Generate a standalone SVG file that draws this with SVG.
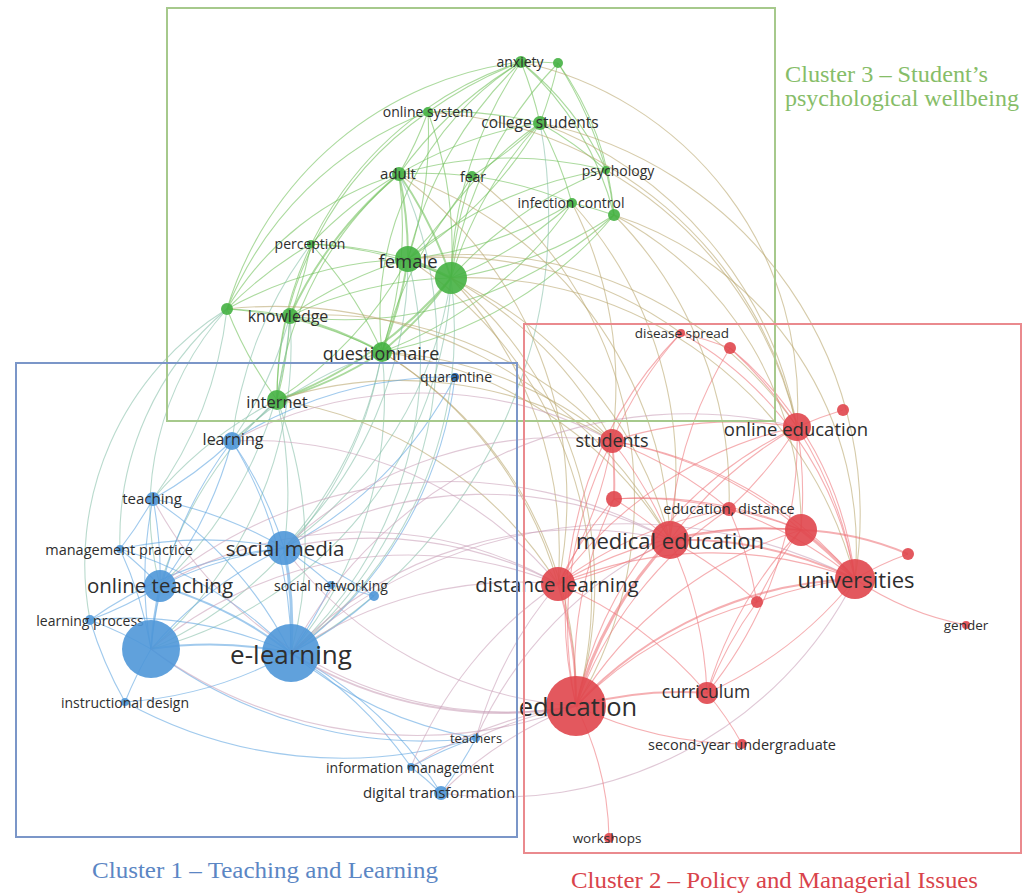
<svg xmlns="http://www.w3.org/2000/svg" width="1023" height="896" viewBox="0 0 1023 896">
<style>
#edges path{fill:none;stroke-width:1.1;stroke-opacity:.58}
.g{stroke:#6fbf58}.b{stroke:#5da4e0}.r{stroke:#ee767a}
.gb{stroke:#86c0a8}.gr{stroke:#b9a66c}.br{stroke:#c9a0b8}
.w2{stroke-width:2!important}.w3{stroke-width:3!important}
.ng{fill:#45b143;fill-opacity:.9}.nb{fill:#4f97d8;fill-opacity:.9}.nr{fill:#e0464d;fill-opacity:.9}
text{font-family:"Open Sans","DejaVu Sans",sans-serif;fill:#2e2e2e;text-anchor:middle;dominant-baseline:central}
.cl{font-family:"Liberation Serif",serif;font-size:24px;text-anchor:start;dominant-baseline:auto}
.box{fill:none;stroke-width:2}
</style>
<rect width="1023" height="896" fill="#ffffff"/>
<g id="edges">
<path class="g w3" d="M408 259A400 400 0 0 1 451 278"/>
<path class="g w2" d="M399 174A400 400 0 0 1 408 259"/>
<path class="g w2" d="M408 259A400 400 0 0 1 382 352"/>
<path class="g" d="M290 316A400 400 0 0 1 408 259"/>
<path class="g" d="M311 244A400 400 0 0 1 408 259"/>
<path class="g" d="M428 112A400 400 0 0 1 408 259"/>
<path class="g" d="M540 123A400 400 0 0 1 408 259"/>
<path class="g" d="M408 259A400 400 0 0 1 521 62"/>
<path class="g" d="M472 176A400 400 0 0 1 408 259"/>
<path class="g" d="M572 203A400 400 0 0 1 408 259"/>
<path class="g" d="M408 259A400 400 0 0 1 606 170"/>
<path class="g" d="M408 259A400 400 0 0 1 277 400"/>
<path class="g" d="M227 309A400 400 0 0 1 408 259"/>
<path class="g w2" d="M399 174A400 400 0 0 1 451 278"/>
<path class="g w2" d="M451 278A400 400 0 0 1 382 352"/>
<path class="g" d="M290 316A400 400 0 0 1 451 278"/>
<path class="g" d="M451 278A400 400 0 0 1 540 123"/>
<path class="g" d="M451 278A400 400 0 0 1 521 62"/>
<path class="g" d="M572 203A400 400 0 0 1 451 278"/>
<path class="g" d="M451 278A400 400 0 0 1 606 170"/>
<path class="g" d="M614 215A400 400 0 0 1 451 278"/>
<path class="g w2" d="M451 278A400 400 0 0 1 277 400"/>
<path class="g" d="M428 112A400 400 0 0 1 451 278"/>
<path class="g" d="M451 278A400 400 0 0 1 472 176"/>
<path class="g" d="M311 244A400 400 0 0 1 451 278"/>
<path class="g" d="M451 278A400 400 0 0 1 558 63"/>
<path class="g w2" d="M290 316A400 400 0 0 1 382 352"/>
<path class="g w2" d="M382 352A400 400 0 0 1 277 400"/>
<path class="g" d="M399 174A400 400 0 0 1 382 352"/>
<path class="g" d="M311 244A400 400 0 0 1 382 352"/>
<path class="g" d="M382 352A400 400 0 0 1 540 123"/>
<path class="g" d="M227 309A400 400 0 0 1 382 352"/>
<path class="g" d="M572 203A400 400 0 0 1 382 352"/>
<path class="g" d="M382 352A300 300 0 0 1 521 62"/>
<path class="g" d="M428 112A400 400 0 0 1 399 174"/>
<path class="g" d="M399 174A400 400 0 0 1 540 123"/>
<path class="g" d="M399 174A400 400 0 0 1 472 176"/>
<path class="g" d="M399 174A400 400 0 0 1 521 62"/>
<path class="g w2" d="M290 316A400 400 0 0 1 399 174"/>
<path class="g" d="M311 244A400 400 0 0 1 399 174"/>
<path class="g" d="M399 174A400 400 0 0 1 606 170"/>
<path class="g" d="M521 62A400 400 0 0 1 540 123"/>
<path class="g" d="M558 63A400 400 0 0 1 540 123"/>
<path class="g" d="M540 123A400 400 0 0 1 606 170"/>
<path class="g" d="M540 123A400 400 0 0 1 572 203"/>
<path class="g" d="M428 112A400 400 0 0 1 540 123"/>
<path class="g" d="M540 123A400 400 0 0 1 472 176"/>
<path class="g" d="M311 244A400 400 0 0 1 290 316"/>
<path class="g" d="M227 309A400 400 0 0 1 290 316"/>
<path class="g" d="M290 316A400 400 0 0 1 277 400"/>
<path class="g" d="M227 309A400 400 0 0 1 311 244"/>
<path class="g" d="M227 309A300 300 0 0 1 399 174"/>
<path class="g" d="M277 400A400 400 0 0 1 227 309"/>
<path class="g" d="M227 309A350 350 0 0 1 521 62"/>
<path class="g" d="M227 309A350 350 0 0 1 428 112"/>
<path class="g" d="M572 203A400 400 0 0 1 614 215"/>
<path class="g" d="M606 170A400 400 0 0 1 614 215"/>
<path class="g" d="M428 112A400 400 0 0 1 521 62"/>
<path class="g" d="M521 62A400 400 0 0 1 558 63"/>
<path class="g" d="M558 63A400 400 0 0 1 606 170"/>
<path class="g" d="M472 176A400 400 0 0 1 572 203"/>
<path class="g" d="M277 400A350 350 0 0 1 399 174"/>
<path class="g" d="M277 400A350 350 0 0 1 428 112"/>
<path class="g" d="M277 400A350 350 0 0 1 521 62"/>
<path class="g" d="M614 215A400 400 0 0 1 382 352"/>
<path class="g" d="M614 215A400 400 0 0 1 290 316"/>
<path class="g" d="M521 62A300 300 0 0 1 614 215"/>
<path class="g" d="M558 63A300 300 0 0 1 614 215"/>
<path class="g" d="M521 62A300 300 0 0 1 606 170"/>
<path class="gb" d="M277 400A400 400 0 0 1 232 441"/>
<path class="gb" d="M277 400A400 400 0 0 1 284 548"/>
<path class="gb" d="M277 400A400 400 0 0 1 291 653"/>
<path class="gb" d="M160 586A400 400 0 0 1 277 400"/>
<path class="gb" d="M153 499A400 400 0 0 1 277 400"/>
<path class="gb" d="M382 352A400 400 0 0 1 284 548"/>
<path class="gb" d="M382 352A400 400 0 0 1 291 653"/>
<path class="gb" d="M232 441A400 400 0 0 1 382 352"/>
<path class="gb" d="M451 278A400 400 0 0 1 291 653"/>
<path class="gb" d="M451 278A400 400 0 0 1 284 548"/>
<path class="gb" d="M408 259A400 400 0 0 1 291 653"/>
<path class="gb" d="M408 259A400 400 0 0 1 284 548"/>
<path class="gb" d="M290 316A400 400 0 0 1 232 441"/>
<path class="gb" d="M290 316A400 400 0 0 1 160 586"/>
<path class="gb" d="M227 309A400 400 0 0 1 153 499"/>
<path class="gb" d="M227 309A300 300 0 0 0 160 586"/>
<path class="gb" d="M451 278A400 400 0 0 1 151 649"/>
<path class="gb" d="M382 352A400 400 0 0 1 151 649"/>
<path class="gb" d="M399 174A400 400 0 0 1 291 653"/>
<path class="gb" d="M540 123A500 500 0 0 1 291 653"/>
<path class="gb" d="M290 316A400 400 0 0 1 151 649"/>
<path class="gb" d="M311 244A400 400 0 0 0 232 441"/>
<path class="gb" d="M227 309A300 300 0 0 0 90 620"/>
<path class="gb" d="M227 309A300 300 0 0 0 120 549"/>
<path class="gr" d="M451 278A400 400 0 0 1 612 441"/>
<path class="gr" d="M451 278A400 400 0 0 1 670 540"/>
<path class="gr" d="M451 278A400 400 0 0 1 576 706"/>
<path class="gr" d="M451 278A400 400 0 0 1 558 584"/>
<path class="gr" d="M382 352A400 400 0 0 1 612 441"/>
<path class="gr" d="M382 352A400 400 0 0 1 670 540"/>
<path class="gr" d="M382 352A400 400 0 0 1 558 584"/>
<path class="gr" d="M382 352A400 400 0 0 1 576 706"/>
<path class="gr" d="M408 259A400 400 0 0 1 797 427"/>
<path class="gr" d="M540 123A400 400 0 0 1 797 427"/>
<path class="gr" d="M606 170A400 400 0 0 1 797 427"/>
<path class="gr" d="M614 215A350 350 0 0 1 855 579"/>
<path class="gr" d="M614 215A350 350 0 0 1 801 530"/>
<path class="gr" d="M572 203A400 400 0 0 1 670 540"/>
<path class="gr" d="M572 203A400 400 0 0 1 612 441"/>
<path class="gr" d="M408 259A400 400 0 0 1 576 706"/>
<path class="gr" d="M451 278A400 400 0 0 1 855 579"/>
<path class="gr" d="M399 174A400 400 0 0 1 558 584"/>
<path class="gr" d="M614 215A400 400 0 0 1 729 509"/>
<path class="gr" d="M521 62A350 350 0 0 1 797 427"/>
<path class="gr" d="M399 174A400 400 0 0 1 670 540"/>
<path class="gr" d="M290 316A400 400 0 0 1 612 441"/>
<path class="gr" d="M277 400A400 400 0 0 1 558 584"/>
<path class="gr" d="M277 400A400 400 0 0 1 612 441"/>
<path class="gr" d="M408 259A400 400 0 0 1 681 333"/>
<path class="gr" d="M428 112A400 400 0 0 1 797 427"/>
<path class="gr" d="M227 309A450 450 0 0 1 670 540"/>
<path class="gr" d="M540 123A400 400 0 0 1 855 579"/>
<path class="gr" d="M472 176A400 400 0 0 1 576 706"/>
<path class="b w3" d="M284 548A400 400 0 0 1 291 653"/>
<path class="b w2" d="M160 586A400 400 0 0 1 291 653"/>
<path class="b w2" d="M151 649A400 400 0 0 1 291 653"/>
<path class="b" d="M232 441A400 400 0 0 1 291 653"/>
<path class="b" d="M153 499A400 400 0 0 1 291 653"/>
<path class="b" d="M331 585A400 400 0 0 1 291 653"/>
<path class="b" d="M374 596A400 400 0 0 1 291 653"/>
<path class="b" d="M291 653A400 400 0 0 0 476 738"/>
<path class="b" d="M291 653A400 400 0 0 1 411 767"/>
<path class="b" d="M291 653A400 400 0 0 1 441 793"/>
<path class="b" d="M291 653A400 400 0 0 1 125 702"/>
<path class="b" d="M120 549A400 400 0 0 1 291 653"/>
<path class="b" d="M90 620A400 400 0 0 1 291 653"/>
<path class="b w2" d="M151 649A400 400 0 0 1 160 586"/>
<path class="b" d="M151 649A400 400 0 0 1 284 548"/>
<path class="b" d="M151 649A400 400 0 0 1 232 441"/>
<path class="b" d="M151 649A400 400 0 0 1 153 499"/>
<path class="b" d="M90 620A400 400 0 0 1 151 649"/>
<path class="b" d="M125 702A400 400 0 0 1 151 649"/>
<path class="b" d="M120 549A400 400 0 0 1 151 649"/>
<path class="b" d="M160 586A400 400 0 0 1 284 548"/>
<path class="b" d="M232 441A400 400 0 0 1 284 548"/>
<path class="b" d="M153 499A400 400 0 0 1 284 548"/>
<path class="b" d="M284 548A400 400 0 0 1 331 585"/>
<path class="b" d="M284 548A400 400 0 0 1 374 596"/>
<path class="b" d="M120 549A400 400 0 0 1 284 548"/>
<path class="b" d="M232 441A400 400 0 0 1 160 586"/>
<path class="b" d="M153 499A400 400 0 0 1 160 586"/>
<path class="b" d="M120 549A400 400 0 0 1 160 586"/>
<path class="b" d="M160 586A400 400 0 0 1 90 620"/>
<path class="b" d="M232 441A400 400 0 0 1 153 499"/>
<path class="b" d="M153 499A400 400 0 0 1 120 549"/>
<path class="b" d="M90 620A400 400 0 0 0 125 702"/>
<path class="b" d="M411 767A400 400 0 0 1 441 793"/>
<path class="b" d="M476 738A400 400 0 0 1 441 793"/>
<path class="b" d="M411 767A400 400 0 0 1 476 738"/>
<path class="b" d="M455 377A400 400 0 0 1 284 548"/>
<path class="b" d="M455 377A400 400 0 0 1 291 653"/>
<path class="b" d="M232 441A400 400 0 0 1 455 377"/>
<path class="b" d="M151 649A450 450 0 0 0 476 738"/>
<path class="b" d="M125 702A450 450 0 0 0 476 738"/>
<path class="b" d="M90 620A400 400 0 0 1 284 548"/>
<path class="b" d="M331 585A400 400 0 0 1 374 596"/>
<path class="br w2" d="M291 653A400 400 0 0 0 576 706"/>
<path class="br" d="M291 653A400 400 0 0 1 558 584"/>
<path class="br" d="M291 653A400 400 0 0 1 670 540"/>
<path class="br" d="M151 649A450 450 0 0 0 576 706"/>
<path class="br" d="M284 548A400 400 0 0 1 612 441"/>
<path class="br" d="M284 548A400 400 0 0 1 670 540"/>
<path class="br" d="M291 653A500 500 0 0 1 855 579"/>
<path class="br" d="M160 586A400 400 0 0 1 558 584"/>
<path class="br" d="M476 738A400 400 0 0 1 576 706"/>
<path class="br" d="M441 793A400 400 0 0 1 576 706"/>
<path class="br" d="M411 767A400 400 0 0 1 576 706"/>
<path class="br" d="M284 548A400 400 0 0 1 558 584"/>
<path class="br" d="M232 441A400 400 0 0 1 612 441"/>
<path class="br" d="M151 649A400 400 0 0 1 558 584"/>
<path class="br" d="M291 653A450 450 0 0 1 797 427"/>
<path class="br" d="M160 586A450 450 0 0 1 670 540"/>
<path class="br" d="M232 441A400 400 0 0 1 558 584"/>
<path class="br" d="M153 499A400 400 0 0 0 576 706"/>
<path class="br" d="M476 738A400 400 0 0 1 670 540"/>
<path class="br" d="M441 793A400 400 0 0 0 855 579"/>
<path class="br" d="M284 548A400 400 0 0 0 576 706"/>
<path class="br" d="M476 738A400 400 0 0 1 558 584"/>
<path class="br" d="M411 767A400 400 0 0 1 558 584"/>
<path class="r w3" d="M576 706A400 400 0 0 1 670 540"/>
<path class="r w2" d="M558 584A400 400 0 0 1 576 706"/>
<path class="r w2" d="M576 706A400 400 0 0 1 855 579"/>
<path class="r" d="M576 706A400 400 0 0 1 612 441"/>
<path class="r w2" d="M576 706A400 400 0 0 1 707 693"/>
<path class="r" d="M576 706A400 400 0 0 1 801 530"/>
<path class="r" d="M576 706A400 400 0 0 1 797 427"/>
<path class="r" d="M576 706A400 400 0 0 1 729 509"/>
<path class="r" d="M576 706A400 400 0 0 1 614 499"/>
<path class="r" d="M576 706A400 400 0 0 1 757 602"/>
<path class="r" d="M576 706A300 300 0 0 1 609 838"/>
<path class="r" d="M576 706A400 400 0 0 0 742 744"/>
<path class="r" d="M576 706A400 400 0 0 1 681 333"/>
<path class="r" d="M670 540A400 400 0 0 1 558 584"/>
<path class="r" d="M612 441A400 400 0 0 1 670 540"/>
<path class="r w2" d="M670 540A400 400 0 0 1 855 579"/>
<path class="r w2" d="M670 540A400 400 0 0 1 801 530"/>
<path class="r" d="M670 540A400 400 0 0 1 797 427"/>
<path class="r" d="M670 540A400 400 0 0 1 729 509"/>
<path class="r" d="M614 499A400 400 0 0 1 670 540"/>
<path class="r" d="M670 540A400 400 0 0 1 707 693"/>
<path class="r" d="M670 540A400 400 0 0 1 757 602"/>
<path class="r" d="M670 540A400 400 0 0 1 730 348"/>
<path class="r w3" d="M801 530A400 400 0 0 1 855 579"/>
<path class="r" d="M797 427A400 400 0 0 1 855 579"/>
<path class="r" d="M855 579A300 300 0 0 0 966 625"/>
<path class="r" d="M855 579A300 300 0 0 1 908 554"/>
<path class="r" d="M729 509A400 400 0 0 1 855 579"/>
<path class="r" d="M855 579A400 400 0 0 1 707 693"/>
<path class="r" d="M558 584A400 400 0 0 1 855 579"/>
<path class="r" d="M757 602A400 400 0 0 1 855 579"/>
<path class="r" d="M612 441A400 400 0 0 1 855 579"/>
<path class="r" d="M797 427A400 400 0 0 1 801 530"/>
<path class="r" d="M729 509A400 400 0 0 1 801 530"/>
<path class="r w2" d="M801 530A300 300 0 0 1 908 554"/>
<path class="r" d="M558 584A400 400 0 0 1 801 530"/>
<path class="r" d="M612 441A400 400 0 0 1 801 530"/>
<path class="r" d="M614 499A400 400 0 0 1 801 530"/>
<path class="r" d="M612 441A400 400 0 0 1 797 427"/>
<path class="r" d="M558 584A400 400 0 0 1 797 427"/>
<path class="r" d="M797 427A400 400 0 0 1 843 410"/>
<path class="r" d="M797 427A400 400 0 0 1 729 509"/>
<path class="r" d="M730 348A400 400 0 0 1 797 427"/>
<path class="r" d="M797 427A400 400 0 0 1 707 693"/>
<path class="r w2" d="M612 441A400 400 0 0 1 614 499"/>
<path class="r" d="M612 441A400 400 0 0 1 558 584"/>
<path class="r" d="M612 441A400 400 0 0 1 729 509"/>
<path class="r" d="M612 441A400 400 0 0 1 681 333"/>
<path class="r" d="M558 584A400 400 0 0 1 614 499"/>
<path class="r" d="M558 584A400 400 0 0 1 707 693"/>
<path class="r" d="M558 584A400 400 0 0 1 729 509"/>
<path class="r" d="M707 693A300 300 0 0 1 742 744"/>
<path class="r" d="M707 693A400 400 0 0 1 757 602"/>
<path class="r" d="M681 333A400 400 0 0 1 730 348"/>
<path class="r" d="M730 348A350 350 0 0 1 855 579"/>
<path class="r" d="M681 333A350 350 0 0 1 855 579"/>
<path class="r" d="M757 602A400 400 0 0 1 801 530"/>
<path class="r" d="M614 499A400 400 0 0 1 729 509"/>
<path class="r" d="M707 693A400 400 0 0 1 801 530"/>
<path class="r" d="M729 509A400 400 0 0 1 757 602"/>
</g>
<g id="n-anxiety"><circle class="ng" cx="521" cy="62" r="6"/><text x="520" y="61" font-size="14">anxiety</text></g>
<g id="n-g2"><circle class="ng" cx="558" cy="63" r="5"/></g>
<g id="n-online-system"><circle class="ng" cx="428" cy="112" r="5"/><text x="428" y="111" font-size="14">online system</text></g>
<g id="n-college-students"><circle class="ng" cx="540" cy="123" r="7"/><text x="540" y="122" font-size="15.5">college students</text></g>
<g id="n-adult"><circle class="ng" cx="399" cy="174" r="7"/><text x="398" y="173" font-size="15">adult</text></g>
<g id="n-fear"><circle class="ng" cx="472" cy="176" r="5"/><text x="473" y="176" font-size="14">fear</text></g>
<g id="n-psychology"><circle class="ng" cx="606" cy="170" r="4"/><text x="618" y="170" font-size="14">psychology</text></g>
<g id="n-infection-control"><circle class="ng" cx="572" cy="203" r="5"/><text x="571" y="202" font-size="14">infection control</text></g>
<g id="n-g3"><circle class="ng" cx="614" cy="215" r="6"/></g>
<g id="n-perception"><circle class="ng" cx="311" cy="244" r="4"/><text x="310" y="243" font-size="14">perception</text></g>
<g id="n-g4"><circle class="ng" cx="227" cy="309" r="6"/></g>
<g id="n-knowledge"><circle class="ng" cx="290" cy="316" r="8"/><text x="288" y="316" font-size="16">knowledge</text></g>
<g id="n-gbig"><circle class="ng" cx="451" cy="278" r="16"/></g>
<g id="n-female"><circle class="ng" cx="408" cy="259" r="13"/><text x="408" y="260" font-size="18.5">female</text></g>
<g id="n-questionnaire"><circle class="ng" cx="382" cy="352" r="10"/><text x="381" y="353" font-size="18">questionnaire</text></g>
<g id="n-internet"><circle class="ng" cx="277" cy="400" r="10"/><text x="277" y="401" font-size="16.5">internet</text></g>
<g id="n-quarantine"><circle fill="#2f6fb3" cx="455" cy="377" r="4"/><text x="456" y="376" font-size="14">quarantine</text></g>
<g id="n-learning"><circle class="nb" cx="232" cy="441" r="9"/><text x="233" y="439" font-size="16">learning</text></g>
<g id="n-teaching"><circle class="nb" cx="153" cy="499" r="7"/><text x="152" y="498" font-size="15">teaching</text></g>
<g id="n-management-practice"><circle class="nb" cx="120" cy="549" r="4"/><text x="119" y="549" font-size="14.5">management practice</text></g>
<g id="n-social-networking"><circle class="nb" cx="331" cy="585" r="4"/><text x="331" y="585" font-size="14">social networking</text></g>
<g id="n-b2"><circle class="nb" cx="374" cy="596" r="5"/></g>
<g id="n-learning-process"><circle class="nb" cx="90" cy="620" r="5"/><text x="90" y="620" font-size="14">learning process</text></g>
<g id="n-instructional-design"><circle class="nb" cx="125" cy="702" r="4"/><text x="125" y="702" font-size="14">instructional design</text></g>
<g id="n-teachers"><circle class="nb" cx="476" cy="738" r="4"/><text x="476" y="738" font-size="13">teachers</text></g>
<g id="n-information-management"><circle class="nb" cx="411" cy="767" r="4"/><text x="410" y="767" font-size="14">information management</text></g>
<g id="n-digital-transformation"><circle class="nb" cx="441" cy="793" r="7"/><text x="439" y="792" font-size="15">digital transformation</text></g>
<g id="n-bbig"><circle class="nb" cx="151" cy="649" r="29"/></g>
<g id="n-social-media"><circle class="nb" cx="284" cy="548" r="17"/><text x="285" y="548" font-size="20.5">social media</text></g>
<g id="n-online-teaching"><circle class="nb" cx="160" cy="586" r="16"/><text x="160" y="585" font-size="20.5">online teaching</text></g>
<g id="n-e-learning"><circle class="nb" cx="291" cy="653" r="29"/><text x="291" y="654" font-size="26">e-learning</text></g>
<g id="n-disease-spread"><circle class="nr" cx="681" cy="333" r="4"/><text x="682" y="333" font-size="13.5">disease spread</text></g>
<g id="n-r2"><circle class="nr" cx="730" cy="348" r="6"/></g>
<g id="n-r3"><circle class="nr" cx="843" cy="410" r="6"/></g>
<g id="n-online-education"><circle class="nr" cx="797" cy="427" r="14"/><text x="796" y="428" font-size="18.5">online education</text></g>
<g id="n-students"><circle class="nr" cx="612" cy="441" r="12"/><text x="612" y="440" font-size="18">students</text></g>
<g id="n-r4"><circle class="nr" cx="614" cy="499" r="8"/></g>
<g id="n-education-distance"><circle class="nr" cx="729" cy="509" r="7"/><text x="729" y="508" font-size="14.5">education, distance</text></g>
<g id="n-rbig"><circle class="nr" cx="801" cy="530" r="16"/></g>
<g id="n-r5"><circle class="nr" cx="908" cy="554" r="6"/></g>
<g id="n-r6"><circle class="nr" cx="757" cy="602" r="6"/></g>
<g id="n-gender"><circle class="nr" cx="966" cy="625" r="4"/><text x="966" y="625" font-size="13.5">gender</text></g>
<g id="n-medical-education"><circle class="nr" cx="670" cy="540" r="19"/><text x="670" y="540" font-size="22">medical education</text></g>
<g id="n-distance-learning"><circle class="nr" cx="558" cy="584" r="17"/><text x="557" y="584" font-size="20.5">distance learning</text></g>
<g id="n-universities"><circle class="nr" cx="855" cy="579" r="20"/><text x="856" y="579" font-size="22">universities</text></g>
<g id="n-curriculum"><circle class="nr" cx="707" cy="693" r="11"/><text x="706" y="691" font-size="17.5">curriculum</text></g>
<g id="n-second-year-undergraduate"><circle class="nr" cx="742" cy="744" r="5"/><text x="742" y="744" font-size="14.5">second-year undergraduate</text></g>
<g id="n-workshops"><circle class="nr" cx="609" cy="838" r="5"/><text x="607" y="838" font-size="13.5">workshops</text></g>
<g id="n-education"><circle class="nr" cx="576" cy="706" r="30"/><text x="578" y="706" font-size="25.5">education</text></g>
<g id="clusters">
<rect class="box" x="167" y="8" width="608" height="413" stroke="#a6c98c"/>
<rect class="box" x="16" y="363" width="501" height="474" stroke="#7b96c8"/>
<rect class="box" x="524" y="324" width="497" height="529" stroke="#ea8a8e"/>
<text class="cl" x="785" y="82" style="fill:#86bd68" textLength="203" lengthAdjust="spacingAndGlyphs">Cluster 3 – Student’s</text>
<text class="cl" x="785" y="106" style="fill:#86bd68">psychological wellbeing</text>
<text class="cl" x="92" y="878" style="fill:#5b86c4" textLength="346" lengthAdjust="spacingAndGlyphs">Cluster 1 – Teaching and Learning</text>
<text class="cl" x="571" y="888" style="fill:#d9434b" textLength="407" lengthAdjust="spacingAndGlyphs">Cluster 2 – Policy and Managerial Issues</text>
</g>
</svg>
